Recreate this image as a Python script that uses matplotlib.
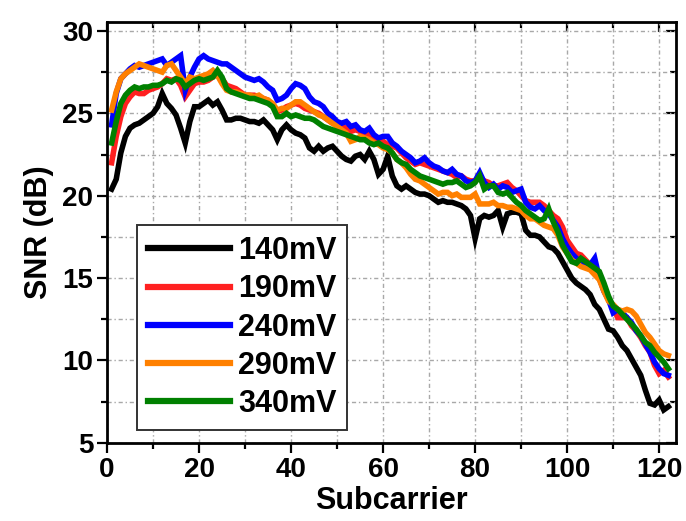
import matplotlib
matplotlib.use('Agg')
import matplotlib.pyplot as plt
from matplotlib.ticker import MultipleLocator
import numpy as np

plt.rcParams['font.family'] = ['Liberation Sans', 'DejaVu Sans']
plt.rcParams['font.weight'] = 'bold'
plt.rcParams['font.size'] = 20

# subcarrier index
subcarrier = np.arange(1, 123)

# SNR (dB) per subcarrier
snr_140 = [20.4, 21.0, 22.6, 23.6, 24.1, 24.3, 24.4, 24.6, 24.8, 25.0,
           25.4, 26.2, 25.6, 25.3, 24.9, 24.1, 23.2, 24.5, 25.4, 25.4,
           25.6, 25.8, 25.5, 25.7, 25.2, 24.6, 24.6, 24.7, 24.7, 24.6,
           24.5, 24.5, 24.4, 24.6, 24.3, 24.0, 23.4, 24.0, 24.3, 24.0,
           23.8, 23.7, 23.5, 22.9, 22.7, 23.0, 22.7, 22.9, 23.0, 22.7,
           22.4, 22.2, 22.1, 22.4, 22.5, 22.2, 22.7, 22.2, 21.3, 21.6,
           22.4, 21.2, 20.6, 20.4, 20.6, 20.4, 20.2, 20.1, 20.1, 20.0,
           19.8, 19.6, 19.7, 19.6, 19.6, 19.5, 19.4, 19.2, 18.8, 17.4,
           18.6, 18.8, 18.7, 18.8, 19.1, 18.1, 18.9, 19.0, 19.0, 18.9,
           17.9, 17.6, 17.6, 17.5, 17.2, 16.9, 16.8, 16.5, 16.0, 15.5,
           15.0, 14.7, 14.5, 14.3, 14.0, 13.4, 13.1, 12.5, 11.9, 11.8,
           11.4, 10.9, 10.6, 10.1, 9.6, 9.1, 8.2, 7.4, 7.3, 7.6,
           7.0, 7.2]
snr_190 = [22.0, 23.6, 24.8, 25.6, 26.0, 26.3, 26.2, 26.2, 26.4, 26.5,
           26.6, 26.8, 27.1, 27.0, 27.1, 26.7, 26.0, 26.4, 26.8, 26.9,
           26.9, 27.0, 27.2, 27.4, 27.1, 26.7, 26.6, 26.5, 26.3, 26.1,
           26.1, 26.1, 26.0, 25.9, 25.8, 25.5, 25.1, 25.2, 25.4, 25.5,
           25.6, 25.5, 25.3, 25.2, 25.1, 25.0, 24.8, 24.6, 24.4, 24.3,
           24.2, 24.1, 23.9, 24.0, 23.9, 23.8, 23.7, 23.5, 23.4, 23.3,
           23.1, 23.0, 22.9, 22.6, 22.3, 22.1, 21.9, 22.0, 21.9, 21.8,
           21.7, 21.6, 21.5, 21.4, 21.3, 21.1, 21.2, 21.0, 20.9, 20.9,
           21.1, 20.9, 20.8, 20.6, 20.6, 20.7, 20.8, 20.5, 20.3, 20.0,
           19.7, 19.6, 19.6, 19.6, 19.4, 19.1, 18.8, 18.6, 18.1, 17.3,
           16.9, 16.5, 16.4, 16.1, 15.8, 15.6, 15.1, 14.4, 13.8, 13.2,
           12.6, 12.6, 12.6, 12.1, 11.8, 11.4, 10.9, 10.5, 9.7, 9.2,
           9.4, 9.0]
snr_240 = [24.3, 26.2, 27.1, 27.4, 27.7, 27.9, 27.8, 27.9, 28.0, 28.1,
           28.2, 28.3, 27.9, 28.1, 28.3, 28.5, 26.4, 27.2, 27.8, 28.3,
           28.5, 28.3, 28.2, 28.1, 28.0, 28.0, 27.8, 27.6, 27.4, 27.2,
           27.1, 27.0, 27.1, 26.9, 26.6, 26.4, 25.8, 25.9, 26.1, 26.5,
           26.8, 26.7, 26.5, 26.0, 25.7, 25.6, 25.4, 25.0, 24.8, 24.5,
           24.4, 24.5, 24.2, 24.3, 24.0, 23.9, 24.1, 23.7, 23.5, 23.6,
           23.6, 23.2, 23.0, 22.7, 22.5, 22.3, 22.0, 22.1, 22.3, 22.0,
           21.8, 21.7, 21.5, 21.4, 21.6, 21.3, 21.2, 20.9, 20.8, 20.9,
           21.4, 20.8, 20.5, 20.7, 20.4, 20.6, 20.5, 20.2, 20.3, 20.4,
           19.6, 19.3, 19.2, 19.4, 19.1, 18.9, 18.5, 18.1, 17.4, 16.9,
           16.5, 16.2, 16.0, 15.9, 15.8, 16.2, 15.0, 14.2, 13.7, 12.9,
           13.1, 12.9, 12.6, 12.3, 11.8, 11.5, 11.0, 10.5, 9.9, 9.5,
           9.2, 9.1]
snr_290 = [25.2, 26.3, 27.1, 27.4, 27.6, 27.8, 28.0, 27.9, 27.8, 27.7,
           27.6, 27.5, 27.9, 28.0, 27.6, 27.2, 26.8, 27.2, 27.1, 27.2,
           27.3, 27.4, 27.6, 27.3, 26.8, 26.4, 26.3, 26.3, 26.2, 26.1,
           26.1, 26.0, 26.1, 25.9, 25.8, 25.6, 25.2, 25.3, 25.3, 25.5,
           25.7, 25.7, 25.5, 25.3, 25.1, 24.9, 24.8, 24.6, 24.4, 24.2,
           24.0, 23.8, 23.3, 23.4, 23.6, 23.5, 23.4, 23.2, 23.1, 22.9,
           22.8, 22.6, 22.2, 22.0, 21.7, 21.3, 21.0, 20.9, 20.7, 20.5,
           20.3, 20.1, 20.2, 20.2, 20.0, 20.1, 19.9, 19.9, 19.9, 20.1,
           19.5, 19.5, 19.5, 19.6, 19.4, 19.4, 19.3, 19.3, 19.2, 19.1,
           18.8, 18.6, 18.6, 18.4, 18.2, 18.1, 18.0, 17.6, 16.9, 16.5,
           16.1, 15.9, 15.7, 15.6, 15.5, 15.2, 14.9, 14.2, 13.6, 13.4,
           13.1, 13.0, 13.1, 13.0, 12.7, 12.2, 11.7, 11.4, 11.0, 10.6,
           10.4, 10.3]
snr_340 = [23.2, 24.5, 25.6, 26.1, 26.4, 26.6, 26.5, 26.6, 26.6, 26.7,
           26.7, 26.8, 27.0, 26.9, 27.1, 27.0, 26.6, 26.8, 27.0, 27.1,
           27.0, 27.1, 27.2, 27.6, 27.2, 26.5, 26.3, 26.2, 26.1, 26.0,
           25.9, 25.9, 25.8, 25.7, 25.6, 25.4, 24.8, 24.8, 25.0, 24.8,
           24.9, 24.8, 24.7, 24.7, 24.6, 24.4, 24.2, 24.1, 24.0, 23.9,
           23.8, 23.7, 23.6, 23.5, 23.4, 23.4, 23.2, 23.1, 23.2, 23.0,
           22.9, 22.6, 22.2, 22.0, 21.9, 21.6, 21.4, 21.2, 21.1, 21.0,
           20.9, 20.8, 20.7, 20.8, 20.8, 20.9, 20.7, 20.5, 20.6, 20.8,
           21.2, 20.4, 20.6, 20.6, 20.2, 20.1, 20.2, 19.9, 19.6, 19.4,
           19.1, 18.9, 18.7, 18.5, 18.6, 19.2, 18.4, 17.8, 17.0, 16.5,
           16.0, 15.9, 16.2, 16.0, 15.8, 15.6, 15.4, 14.7, 13.9, 13.3,
           13.1, 12.8, 12.5, 12.2, 11.9, 11.5, 11.1, 10.9, 10.5, 10.2,
           9.9, 9.5]

labels = ['140mV', '190mV', '240mV', '290mV', '340mV']
colors = ['black', '#ff2020', '#0000ff', '#ff8000', '#008000']
series = [snr_140, snr_190, snr_240, snr_290, snr_340]

fig = plt.figure(figsize=(6.86, 5.21), dpi=100)
ax = fig.add_axes([0.156, 0.150, 0.829, 0.808])

for y, c, lab in zip(series, colors, labels):
    ax.plot(subcarrier, y, color=c, lw=4, label=lab, solid_joinstyle='miter')

ax.set_xlim(0, 123.6)
ax.set_ylim(5, 30.55)
ax.xaxis.set_major_locator(MultipleLocator(20))
ax.xaxis.set_minor_locator(MultipleLocator(10))
ax.yaxis.set_major_locator(MultipleLocator(5))
ax.yaxis.set_minor_locator(MultipleLocator(2.5))

# dash-dot grey grid on both major and minor ticks
ax.grid(True, which='both', color='#a8a8a8', lw=1, linestyle=(0, (3, 2, 1, 2)))
ax.set_axisbelow(True)

for s in ax.spines.values():
    s.set_linewidth(2)

ax.tick_params(which='both', direction='out', width=1.6, labelsize=20, pad=3,
               top=False, right=False)
ax.tick_params(which='major', length=7)
ax.tick_params(which='minor', length=4)

# inward ticks on the top and right spines
ax_top = ax.secondary_xaxis('top')
ax_top.xaxis.set_major_locator(MultipleLocator(20))
ax_top.xaxis.set_minor_locator(MultipleLocator(10))
ax_top.tick_params(which='both', direction='in', width=1.6, labeltop=False)
ax_top.tick_params(which='major', length=7)
ax_top.tick_params(which='minor', length=4)
ax_right = ax.secondary_yaxis('right')
ax_right.yaxis.set_major_locator(MultipleLocator(5))
ax_right.yaxis.set_minor_locator(MultipleLocator(2.5))
ax_right.tick_params(which='both', direction='in', width=1.6, labelright=False)
ax_right.tick_params(which='major', length=7)
ax_right.tick_params(which='minor', length=4)

ax.set_xlabel('Subcarrier', fontsize=22, fontweight='bold', labelpad=2)
ax.set_ylabel('SNR (dB)', fontsize=22, fontweight='bold', labelpad=6)

leg = ax.legend(loc='lower left', bbox_to_anchor=(0.053, 0.031), borderaxespad=0,
                fancybox=False, edgecolor='#333333', framealpha=1,
                handlelength=2.7, handletextpad=0.25, labelspacing=0.27,
                borderpad=0.35, fontsize=22)
leg.get_frame().set_linewidth(1.4)
for h in leg.get_lines():
    h.set_linewidth(4.5)

fig.savefig('out.png', dpi=100)
